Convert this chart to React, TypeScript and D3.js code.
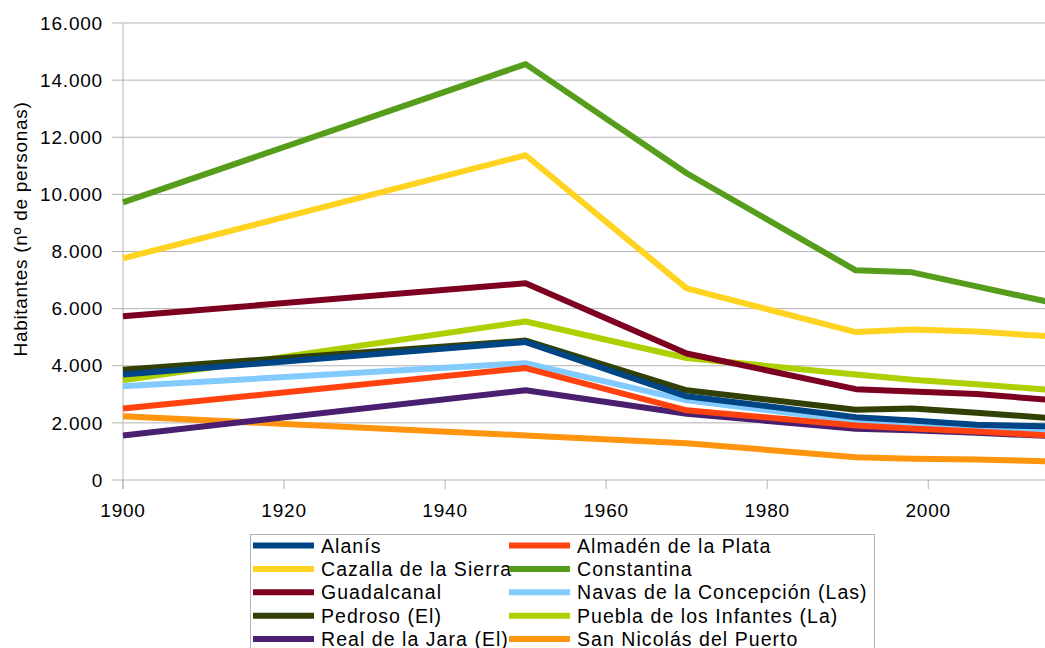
import React from "react";
import * as d3 from "d3";

const years = [1900, 1950, 1970, 1991, 1998, 2006, 2015];
const seriesNames = [
  "Alanís",
  "Almadén de la Plata",
  "Cazalla de la Sierra",
  "Constantina",
  "Guadalcanal",
  "Navas de la Concepción (Las)",
  "Pedroso (El)",
  "Puebla de los Infantes (La)",
  "Real de la Jara (El)",
  "San Nicolás del Puerto",
];
const alanis = [3690, 4830, 2930, 2200, 2085, 1935, 1875];
const almaden = [2500, 3920, 2440, 1910, 1800, 1700, 1560];
const cazalla = [7760, 11370, 6710, 5180, 5265, 5195, 5030];
const constantina = [9720, 14560, 10740, 7340, 7270, 6780, 6230];
const guadalcanal = [5730, 6890, 4430, 3180, 3100, 3010, 2810];
const navas = [3280, 4090, 2790, 2060, 1970, 1860, 1740];
const pedroso = [3860, 4880, 3140, 2460, 2500, 2355, 2170];
const puebla = [3490, 5550, 4270, 3690, 3510, 3350, 3160];
const realJara = [1560, 3140, 2320, 1795, 1740, 1650, 1540];
const sanNicolas = [2230, 1560, 1290, 800, 745, 720, 650];
const seriesValues = [alanis, almaden, cazalla, constantina, guadalcanal, navas, pedroso, puebla, realJara, sanNicolas];
const colors = ["#004586", "#ff420e", "#ffd320", "#579d1c", "#7e0021", "#83caff", "#314004", "#aecf00", "#4b1f6f", "#ff950e"];
const yTicks = [0, 2000, 4000, 6000, 8000, 10000, 12000, 14000, 16000];
const xTicks = [1900, 1920, 1940, 1960, 1980, 2000];

const W = 1045;
const H = 648;
const left = 123;
const right = 1045;
const top = 23;
const bottom = 480;

export default function App() {
  const x = d3.scaleLinear().domain([1900, 2014.5]).range([left, right]);
  const y = d3.scaleLinear().domain([0, 16000]).range([bottom, top]);
  const line = d3
    .line<number>()
    .x((_, i) => x(years[i]))
    .y((v) => y(v));
  const fmt = (v: number) => d3.format(",")(v).replace(/,/g, ".");
  const font = "'Liberation Sans', Arial, sans-serif";
  const order = seriesValues.map((_, i) => i).reverse();
  const legendY0 = 545.5;
  const rowH = 23.4;
  const ls = 0.8;
  return (
    <svg width={W} height={H} style={{ position: "absolute", left: 0, top: 0, background: "#fff" }} fontFamily={font}>
      <rect x={0} y={0} width={W} height={H} fill="#fff" />
      {yTicks.map((t) => (
        <g key={t}>
          <line x1={left - 11} x2={right} y1={y(t)} y2={y(t)} stroke="#b3b3b3" strokeWidth={1} />
          <text x={103} y={y(t)} dy="0.35em" textAnchor="end" fontSize={19} letterSpacing={ls} fill="#000">
            {fmt(t)}
          </text>
        </g>
      ))}
      <line x1={left} x2={left} y1={top} y2={bottom + 9} stroke="#b3b3b3" strokeWidth={1} />
      {xTicks.map((t) => (
        <g key={t}>
          <line x1={x(t)} x2={x(t)} y1={bottom} y2={bottom + 9} stroke="#b3b3b3" strokeWidth={1} />
          <text x={x(t)} y={517} textAnchor="middle" fontSize={19} letterSpacing={ls} fill="#000">
            {t}
          </text>
        </g>
      ))}
      <text
        transform={`translate(27, 229) rotate(-90)`}
        textAnchor="middle"
        fontSize={19}
        letterSpacing={0.7}
        fill="#000"
      >
        Habitantes (nº de personas)
      </text>
      {order.map((i) => (
        <path
          key={i}
          d={line(seriesValues[i]) || ""}
          fill="none"
          stroke={colors[i]}
          strokeWidth={6}
          strokeLinejoin="round"
        />
      ))}
      <rect x={250.5} y={534.5} width={624} height={130} fill="#fff" stroke="#b3b3b3" strokeWidth={1} />
      {seriesNames.map((name, i) => {
        const col = i % 2;
        const row = Math.floor(i / 2);
        const lx = col === 0 ? 253 : 509;
        const ly = legendY0 + row * rowH;
        return (
          <g key={name}>
            <line x1={lx} x2={lx + 61} y1={ly} y2={ly} stroke={colors[i]} strokeWidth={6} />
            <text x={lx + 68} y={ly} dy="0.36em" fontSize={19.5} letterSpacing={1.05} fill="#000">
              {name}
            </text>
          </g>
        );
      })}
    </svg>
  );
}
